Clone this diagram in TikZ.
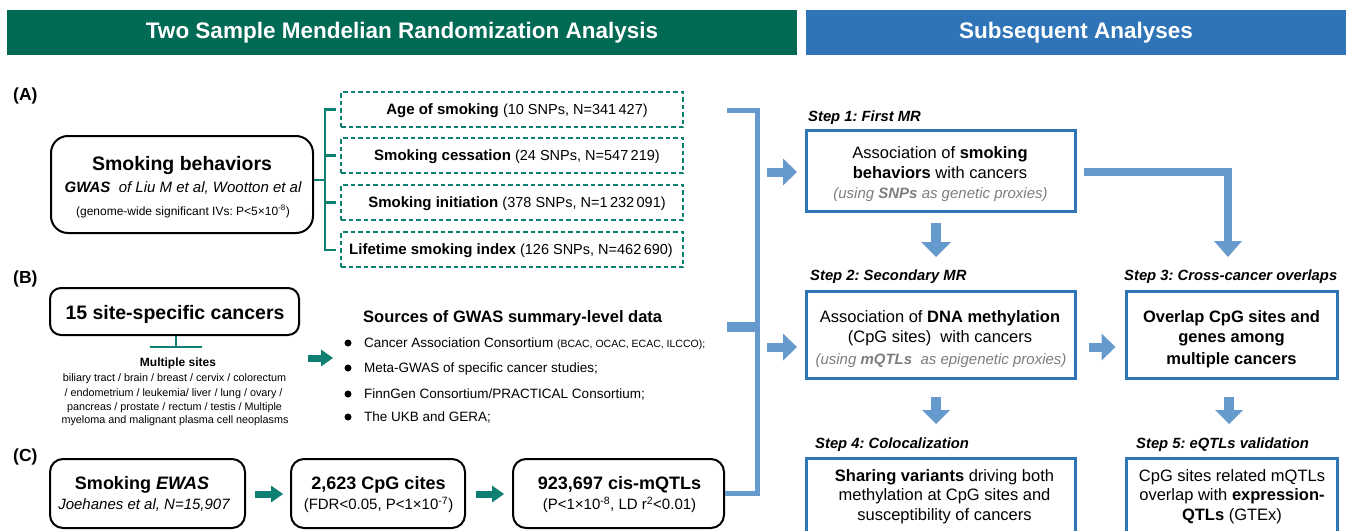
\documentclass[tikz,border=0pt]{standalone}
\usepackage{fontspec}
\setmainfont{Liberation Sans}
\usetikzlibrary{arrows.meta}
\frenchspacing
\definecolor{hgreen}{RGB}{0,106,84}
\definecolor{hblue}{RGB}{46,116,182}
\definecolor{tealc}{RGB}{14,128,113}
\definecolor{lblue}{RGB}{102,153,204}
\definecolor{bblue}{RGB}{46,117,182}
\definecolor{gtxt}{RGB}{125,125,125}
\newcommand{\fsz}[1]{\fontsize{#1}{#1}\selectfont}
\begin{document}
\begin{tikzpicture}[x=1pt,y=-1pt,
  hdr/.style={inner sep=0pt, minimum height=45pt, text=white, font=\fsz{22.5}\bfseries},
  tc/.style={inner sep=0pt, anchor=base},
  tl/.style={inner sep=0pt, anchor=base west},
  rbox/.style={draw=black, line width=2pt, rounded corners=13pt, inner sep=0pt},
  dbox/.style={draw=tealc, line width=1.6pt, dash pattern=on 4.5pt off 3pt, inner sep=0pt, minimum width=342pt, minimum height=35pt},
  sbox/.style={draw=bblue, line width=3pt, inner sep=0pt},
  tline/.style={draw=tealc, line width=2.5pt},
  bline/.style={draw=lblue, line width=5pt},
  barrow/.style={draw=lblue, line width=9pt, -{Triangle[width=27pt,length=14pt,line width=0pt]}},
  tarrow/.style={draw=tealc, line width=7pt, -{Triangle[width=17pt,length=12pt,line width=0pt]}},
  steplab/.style={inner sep=0pt, anchor=base west, font=\fsz{14.8}\bfseries\itshape},
  stxt/.style={inner sep=0pt, anchor=base, font=\fsz{16.5}},
  gtx/.style={inner sep=0pt, anchor=base, font=\fsz{15}\itshape, text=gtxt},
  bul/.style={circle, fill=black, inner sep=0pt, minimum size=7pt}
]
\useasboundingbox (0,0) rectangle (1346,530);
\clip (0,0) rectangle (1346,530);

% headers
\node[hdr, fill=hgreen, minimum width=790pt] (h1) at (402,32.5) {Two Sample Mendelian Randomization Analysis};
\node[hdr, fill=hblue, minimum width=540pt] (h2) at (1076,32.5) {Subsequent Analyses};

% panel labels
\node[tl, font=\fsz{17.5}\bfseries] (la) at (13,100) {(A)};
\node[tl, font=\fsz{17.5}\bfseries] (lb) at (13,283) {(B)};
\node[tl, font=\fsz{17.5}\bfseries] (lc) at (13,461) {(C)};

% ---------- panel A
\node[rbox, rounded corners=17pt, minimum width=262pt, minimum height=97pt] (sb) at (182,184.5) {};
\node[tc, font=\fsz{19.5}\bfseries] (sbt1) at (182,170) {Smoking behaviors};
\node[tc, font=\fsz{15}\itshape] (sbt2) at (183,192.4) {{\bfseries GWAS}\ \ of Liu M et al, Wootton et al};
\node[tc, font=\fsz{12}] (sbt3) at (183,215.3) {(genome-wide significant IVs: P<5×10\textsuperscript{-8})};

\coordinate (j0) at (325,180);
\coordinate (j1) at (325,109.5);
\coordinate (j2) at (325,155.5);
\coordinate (j3) at (325,202.5);
\coordinate (j4) at (325,250);
\coordinate (k1) at (336,109.5);
\coordinate (k2) at (336,155.5);
\coordinate (k3) at (336,202.5);
\coordinate (k4) at (336,250);
\draw[tline] (sb.east |- j0) -- (j0);
\draw[tline] (k1) -- (j1) -- (j4) -- (k4);
\draw[tline] (j2) -- (k2);
\draw[tline] (j3) -- (k3);

\node[dbox] (d1) at (512,109.5) {};
\node[dbox] (d2) at (512,155.5) {};
\node[dbox] (d3) at (512,202.5) {};
\node[dbox] (d4) at (512,249.5) {};
\node[tc, font=\fsz{15}\bfseries] (d1t) at (517,114.9) {Age of smoking {\mdseries\fsz{14.5}(10 SNPs, N=341\,427)}};
\node[tc, font=\fsz{15}\bfseries] (d2t) at (517,160.9) {Smoking cessation {\mdseries\fsz{14.5}(24 SNPs, N=547\,219)}};
\node[tc, font=\fsz{15}\bfseries] (d3t) at (517,207.9) {Smoking initiation {\mdseries\fsz{14.5}(378 SNPs, N=1\,232\,091)}};
\node[tc, font=\fsz{15}\bfseries] (d4t) at (511,254.9) {Lifetime smoking index {\mdseries\fsz{14.5}(126 SNPs, N=462\,690)}};

% ---------- panel B
\node[rbox, rounded corners=11pt, minimum width=249pt, minimum height=47pt] (cb) at (174.5,311.5) {};
\node[tc, font=\fsz{19.5}\bfseries] (cbt) at (175,319) {15 site-specific cancers};
\coordinate (tm) at (176,347);
\coordinate (tL) at (150,347);
\coordinate (tR) at (202,347);
\draw[tline] (tm |- cb.south) -- (tm);
\draw[tline] (tL) -- (tR);
\node[tc, font=\fsz{12}\bfseries] (ms) at (178,366.3) {Multiple sites};
\node[tc, font=\fsz{10.8}] (ms1) at (174.5,381.8) {biliary tract / brain / breast / cervix / colorectum};
\node[tc, font=\fsz{10.8}] (ms2) at (173.5,396.8) {/ endometrium / leukemia/ liver / lung / ovary /};
\node[tc, font=\fsz{10.8}] (ms3) at (174.5,410.8) {pancreas / prostate / rectum / testis / Multiple};
\node[tc, font=\fsz{10.8}] (ms4) at (175,423.8) {myeloma and malignant plasma cell neoplasms};

\coordinate (ab1) at (308,358);
\coordinate (ab2) at (333,358);
\draw[tarrow] (ab1) -- (ab2);

\node[tl, font=\fsz{16.5}\bfseries] (src) at (363,322) {Sources of GWAS summary-level data};
\node[bul] (b1) at (348,343) {};
\node[bul] (b2) at (348,368) {};
\node[bul] (b3) at (348,394) {};
\node[bul] (b4) at (348,417) {};
\node[tl, font=\fsz{13.5}] (i1) at (364,347.9) {Cancer Association Consortium {\fsz{10.5}(BCAC, OCAC, ECAC, ILCCO);}};
\node[tl, font=\fsz{13.5}] (i2) at (364,372.9) {Meta-GWAS of specific cancer studies;};
\node[tl, font=\fsz{13.5}] (i3) at (364,398.9) {FinnGen Consortium/PRACTICAL Consortium;};
\node[tl, font=\fsz{13.5}] (i4) at (364,421.9) {The UKB and GERA;};

% ---------- panel C
\node[rbox, minimum width=195pt, minimum height=69pt] (c1) at (147.5,493.5) {};
\node[rbox, minimum width=174pt, minimum height=69pt] (c2) at (378,493.5) {};
\node[rbox, minimum width=211pt, minimum height=69pt] (c3) at (618.5,493.5) {};
\node[tc, font=\fsz{18}\bfseries] (c1a) at (142,489.5) {Smoking {\itshape EWAS}};
\node[tc, font=\fsz{15}\itshape] (c1b) at (144,509.4) {Joehanes et al, N=15,907};
\node[tc, font=\fsz{18}\bfseries] (c2a) at (378.5,489.5) {2,623 CpG cites};
\node[tc, font=\fsz{15}] (c2b) at (378.5,509.4) {(FDR<0.05, P<1×10\textsuperscript{-7})};
\node[tc, font=\fsz{18}\bfseries] (c3a) at (619.5,489.5) {923,697 cis-mQTLs};
\node[tc, font=\fsz{15}] (c3b) at (619.5,509.4) {(P<1×10\textsuperscript{-8}, LD r\textsuperscript{2}<0.01)};
\coordinate (ac1) at (255,494);
\coordinate (ac2) at (283,494);
\coordinate (ac3) at (476,494);
\coordinate (ac4) at (504,494);
\draw[tarrow] (ac1) -- (ac2);
\draw[tarrow] (ac3) -- (ac4);

% ---------- blue brackets
\coordinate (bb1) at (727,110);
\coordinate (bb2) at (757,110);
\coordinate (bb3) at (757,324);
\coordinate (bb4) at (727,324);
\coordinate (bb5) at (727,329);
\coordinate (bb6) at (757,329);
\coordinate (bb7) at (757,493.5);
\draw[bline] (bb1) -- (bb2) -- (bb3) -- (bb4);
\draw[bline] (bb5) -- (bb6) -- (bb7) -- (c3.east);

% ---------- right side
\node[steplab] (l1) at (808,121) {Step 1: First MR};
\node[steplab] (l2) at (810,280.3) {Step 2: Secondary MR};
\node[steplab] (l3) at (1124,280.3) {Step 3: Cross-cancer overlaps};
\node[steplab] (l4) at (815,448.3) {Step 4: Colocalization};
\node[steplab] (l5) at (1136,448.3) {Step 5: eQTLs validation};

\node[sbox, minimum width=269pt, minimum height=81pt] (s1) at (940.5,170.5) {};
\node[sbox, minimum width=269pt, minimum height=87pt] (s2) at (940.5,334.5) {};
\node[sbox, minimum width=211pt, minimum height=87pt] (s3) at (1231.5,334.5) {};
\node[sbox, minimum width=269pt, minimum height=110pt] (s4) at (940.5,513) {};
\node[sbox, minimum width=211pt, minimum height=110pt] (s5) at (1231.5,513) {};

\node[stxt] (s1a) at (940,158.9) {Association of \textbf{smoking}};
\node[stxt] (s1b) at (940,178.9) {\textbf{behaviors} with cancers};
\node[gtx] (s1c) at (940.5,198.4) {(using \textbf{SNPs} as genetic proxies)};

\node[stxt] (s2a) at (940,322.9) {Association of \textbf{DNA methylation}};
\node[stxt] (s2b) at (940,342.9) {(CpG sites)\ \ with cancers};
\node[gtx] (s2c) at (941,364.4) {(using \textbf{mQTLs}\ \ as epigenetic proxies)};

\node[stxt, font=\fsz{16.5}\bfseries] (s3a) at (1231.5,322.9) {Overlap CpG sites and};
\node[stxt, font=\fsz{16.5}\bfseries] (s3b) at (1231.5,342.9) {genes among};
\node[stxt, font=\fsz{16.5}\bfseries] (s3c) at (1231.5,364.9) {multiple cancers};

\node[stxt] (s4a) at (944.5,481.9) {\textbf{Sharing variants} driving both};
\node[stxt] (s4b) at (944.5,500.9) {methylation at CpG sites and};
\node[stxt] (s4c) at (944.5,520.9) {susceptibility of cancers};

\node[stxt] (s5a) at (1232,481.9) {CpG sites related mQTLs};
\node[stxt] (s5b) at (1232,500.9) {overlap with \textbf{expression-}};
\node[stxt] (s5c) at (1232,520.9) {\textbf{QTLs} (GTEx)};

% blue arrows
\coordinate (ra1) at (767,172);
\coordinate (ra2) at (797,172);
\coordinate (ra3) at (767,347);
\coordinate (ra4) at (797,347);
\draw[barrow] (ra1) -- (ra2);
\draw[barrow] (ra3) -- (ra4);
\draw[barrow] ([xshift=12pt]s2.east |- ra3) -- ([xshift=-9pt]s3.west |- ra3);

\coordinate (da1) at (936,223);
\coordinate (da2) at (936,257);
\draw[barrow, line width=10pt, -{Triangle[width=30pt,length=15pt,line width=0pt]}] (da1) -- (da2);
\coordinate (da3) at (936,397);
\coordinate (da4) at (936,424);
\draw[barrow, line width=10pt, -{Triangle[width=28pt,length=14pt,line width=0pt]}] (da3) -- (da4);
\coordinate (da5) at (1229,397);
\coordinate (da6) at (1229,424);
\draw[barrow, line width=10pt, -{Triangle[width=28pt,length=14pt,line width=0pt]}] (da5) -- (da6);

\coordinate (e1) at (1084,172);
\coordinate (e2) at (1228,257);
\draw[barrow, line width=8pt, -{Triangle[width=28pt,length=16pt,line width=0pt]}] (e1) -| (e2);
\end{tikzpicture}
\end{document}
